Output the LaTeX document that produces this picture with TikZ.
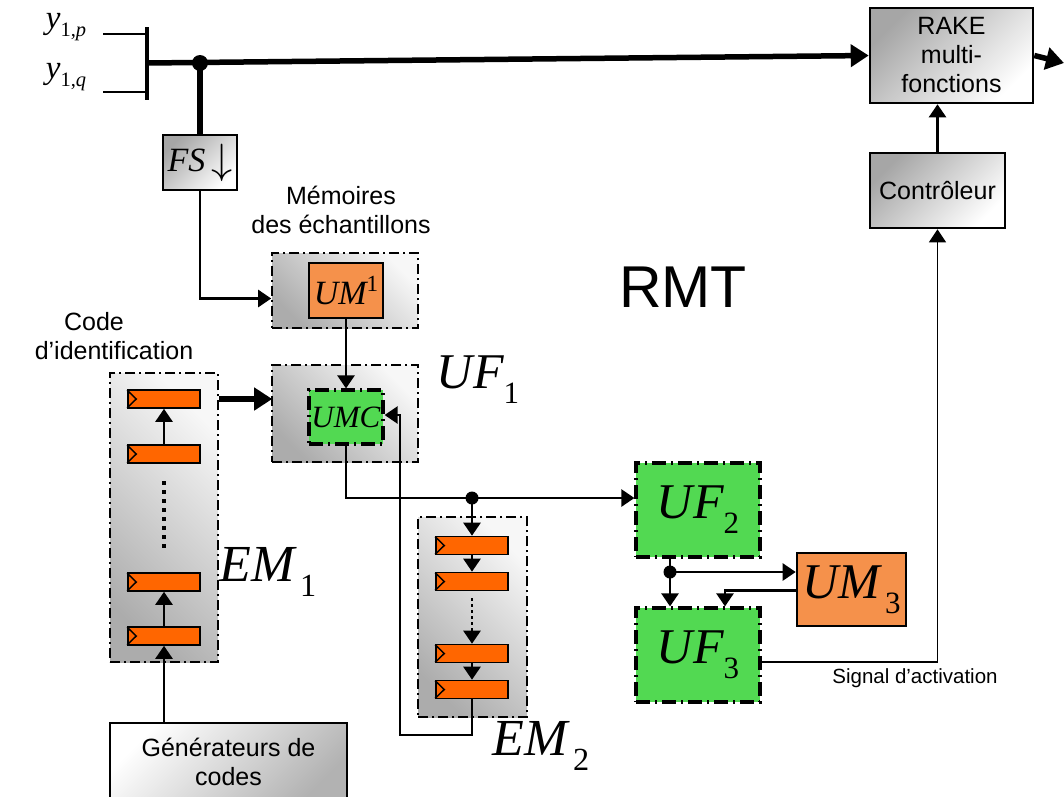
\documentclass[tikz,border=0pt]{standalone}
\usepackage{fontspec}
\usepackage{graphicx}
\setmainfont{Liberation Serif}
\setsansfont{Liberation Sans}
\usetikzlibrary{arrows.meta,calc}
\newcommand\msub[3]{{\itshape #1}\raisebox{-#3}{\upshape\scalebox{0.62}{#2}}}
\newcommand\msup[3]{{\itshape #1}\raisebox{#3}{\upshape\scalebox{0.68}{#2}}}
\begin{document}
\begin{tikzpicture}[x=1pt,y=-1pt,
  ln/.style={line width=2.5pt},
  tip/.style={-{Triangle[length=13pt,width=17pt]}},
  bigtip/.style={-{Triangle[length=18pt,width=22pt]}},
  dashdot/.style={dash pattern=on 10pt off 4pt on 2pt off 4pt},
  cont/.style={draw,dashdot,line width=1.6pt,top color=gray!6,bottom color=gray!65,shading angle=-45,inner sep=0pt},
  graybox/.style={draw,line width=2.6pt,top color=gray!70,bottom color=white,shading angle=45,inner sep=0pt,align=center},
  genbox/.style={draw,line width=2.6pt,top color=white,bottom color=gray!60,shading angle=45,inner sep=0pt,align=center},
  orbox/.style={draw,line width=2.6pt,fill=umorange,inner sep=0pt},
  grbox/.style={draw,line width=3.2pt,dash pattern=on 14pt off 5pt on 2pt off 5pt,fill=ufgreen,inner sep=0pt},
  reg/.style={draw,line width=1.6pt,fill=regorange,minimum width=72pt,minimum height=18pt,inner sep=0pt},
  txt/.style={font=\sffamily\fontsize{25}{29}\selectfont,align=center},
  dot/.style={circle,fill=black,inner sep=0pt,minimum size=#1}
]
\definecolor{umorange}{RGB}{245,145,75}
\definecolor{regorange}{RGB}{255,102,0}
\definecolor{ufgreen}{RGB}{82,217,82}
\useasboundingbox (0,0) rectangle (1064,796);

% ---- inputs and bus
\node (yp) at (66,27) {\fontsize{33}{35}\selectfont\msub{y}{1,\textit{p}}{0.25em}};
\node (yq) at (66,77) {\fontsize{33}{35}\selectfont\msub{y}{1,\textit{q}}{0.25em}};
\coordinate (bt) at (147,27);
\coordinate (bb) at (147,100);
\coordinate (bm) at (147,63);
\draw[line width=3.2pt] (bt) -- (bb);
\draw[ln] (103,34) -- (147,34);
\draw[ln] (103,92) -- (147,92);

\node[graybox,minimum width=163pt,minimum height=95pt,txt] (rake) at (951.5,55.5) {RAKE\\multi-\\fonctions};
\node[graybox,minimum width=135pt,minimum height=75pt,txt] (ctrl) at (937.5,190.5) {Contrôleur};
\coordinate (out) at (1064,63);
\draw[line width=5.5pt,bigtip] (bm) -- (rake.west);
\draw[line width=5.5pt,bigtip] (rake.east) -- (out);
\node[dot=16pt] (d1) at (200,63) {};

\node[graybox,minimum width=74pt,minimum height=55pt] (fs) at (200,162.5) {\fontsize{34}{36}\selectfont\textit{FS}\,\raisebox{-0.05em}{\scalebox{1.7}{$\downarrow$}}};
\draw[line width=5.5pt] (d1.center) -- (fs.north);

% ---- memories
\node[txt] (memt) at (341,210) {Mémoires\\des échantillons};
\node[cont,minimum width=146pt,minimum height=75pt] (umc1) at (345,290.5) {};
\node[orbox,minimum width=74pt,minimum height=55pt] (um1) at (346,290.5) {\fontsize{34}{36}\selectfont\msup{UM}{1}{0.38em}};
\draw[ln,tip] (fs.south) |- ($(umc1.west)+(0,8)$);

\node[cont,minimum width=146pt,minimum height=97pt] (ufc1) at (345,413.5) {};
\node[grbox,minimum width=74pt,minimum height=54pt] (umc) at (346,417) {\fontsize{31}{33}\selectfont\textit{UMC}};
\draw[ln,tip] (um1.south) -- (umc.north);
\node (uf1) at (478,380) {\fontsize{50}{52}\selectfont\msub{UF}{1}{0.3em}};

\node[font=\sffamily\fontsize{59}{61}\selectfont] (rmt) at (683,287) {RMT};

% ---- EM1
\node[txt] (codet) at (114,336) {\mbox{Code}\hspace*{40pt}\\d’identification};
\node[cont,minimum width=108pt,minimum height=289pt] (em1) at (164,517.5) {};
\node[reg] (r11) at (164,399) {};
\node[reg] (r12) at (164,454) {};
\node[reg] (r13) at (164,582) {};
\node[reg] (r14) at (164,636) {};
\foreach \r in {r11,r12,r13,r14}{
  \draw[line width=1.5pt] ($(\r.north west)+(0,1)$) -- ($(\r.west)+(9,0)$) -- ($(\r.south west)+(0,-1)$);
}
\draw[ln,tip] (r12.north) -- (r11.south);
\draw[ln,tip] (r14.north) -- (r13.south);
\coordinate (dt1) at (164,481);
\coordinate (db1) at (164,550);
\draw[line width=3.2pt,dash pattern=on 4pt off 5pt] (dt1) -- (db1);
\node (em1t) at (268,572) {\fontsize{52}{54}\selectfont\msub{EM}{\,1}{0.3em}};
\draw[line width=6pt,bigtip] (em1.east |- r11.center) -- ($(ufc1.west |- r11.center)+(1,0)$);

\node[genbox,minimum width=237pt,minimum height=78pt,txt] (gen) at (228.5,762) {Générateurs de\\codes};
\draw[ln,tip] (r14.south |- gen.north) -- (r14.south);

% ---- UMC -> UF2, EM2
\node[grbox,minimum width=124pt,minimum height=94pt] (uf2) at (698,510) {\fontsize{50}{52}\selectfont\msub{UF}{2}{0.3em}};
\node[dot=13pt] (d2) at (472,498) {};
\draw[ln,tip] (umc.south) |- (uf2.west |- d2);

\node[cont,minimum width=109pt,minimum height=200pt] (em2) at (472.5,617) {};
\node[reg] (r21) at (472,545.5) {};
\node[reg] (r22) at (472,581.5) {};
\node[reg] (r23) at (472,653.5) {};
\node[reg] (r24) at (472,689.5) {};
\foreach \r in {r21,r22,r23,r24}{
  \draw[line width=1.5pt] ($(\r.north west)+(0,1)$) -- ($(\r.west)+(9,0)$) -- ($(\r.south west)+(0,-1)$);
}
\draw[ln,tip] (d2.center) -- (r21.north);
\draw[ln,tip] (r21.south) -- (r22.north);
\draw[ln,tip] (r23.south) -- (r24.north);
\coordinate (dt2) at (472,598);
\draw[line width=2pt,dash pattern=on 3pt off 3pt] (dt2) -- (472,630);
\draw[ln,tip] (472,628) -- (r23.north);
\coordinate (lp1) at (472,735);
\coordinate (lp2) at (400,735);
\draw[ln,tip] (r24.south) -- (lp1) -- (lp2) |- ($(umc.east)+(0,-2)$);
\node (em2t) at (541,746) {\fontsize{52}{54}\selectfont\msub{EM}{\,2}{0.3em}};

% ---- UF3, UM3
\node[grbox,minimum width=124pt,minimum height=94pt] (uf3) at (698,655) {\fontsize{50}{52}\selectfont\msub{UF}{3}{0.3em}};
\node[orbox,minimum width=109pt,minimum height=73pt] (um3) at (851.5,589.5) {\fontsize{50}{52}\selectfont\msub{UM}{\,3}{0.3em}};
\node[dot=13pt] (d3) at (670,572) {};
\draw[ln] (uf2.south -| d3) -- (d3.center);
\draw[ln,tip] (d3.center) -- (uf3.north -| d3);
\draw[ln,tip] (d3.center) -- (um3.west |- d3);
\draw[ln,tip] ($(um3.west)+(0,1)$) -| ($(uf3.north)+(27,0)$);

\draw[line width=1.5pt,tip] ($(uf3.east)+(0,7)$) -| (ctrl.south);
\node[font=\sffamily\fontsize{20.5}{23}\selectfont] (sig) at (915,678) {Signal d’activation};
\draw[ln,tip] (ctrl.north) -- (rake.south -| ctrl.north);
\end{tikzpicture}
\end{document}
